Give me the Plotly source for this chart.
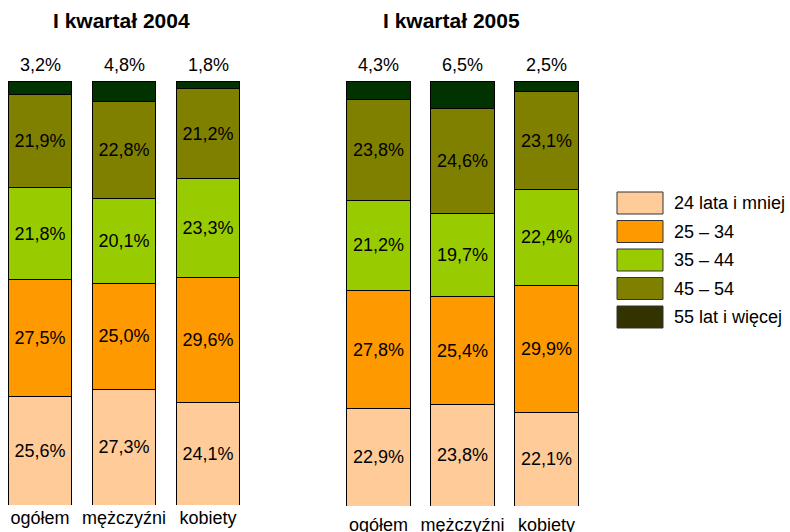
import plotly.graph_objects as go

categories = ["ogółem", "mężczyźni", "kobiety"]
age_groups = ["24 lata i mniej", "25 – 34", "35 – 44", "45 – 54", "55 lat i więcej"]
panel_titles = ["I kwartał 2004", "I kwartał 2005"]

# values per age group, for [ogółem, mężczyźni, kobiety]
q2004 = {
    "24 lata i mniej": [25.6, 27.3, 24.1],
    "25 – 34": [27.5, 25.0, 29.6],
    "35 – 44": [21.8, 20.1, 23.3],
    "45 – 54": [21.9, 22.8, 21.2],
    "55 lat i więcej": [3.2, 4.8, 1.8],
}
q2005 = {
    "24 lata i mniej": [22.9, 23.8, 22.1],
    "25 – 34": [27.8, 25.4, 29.9],
    "35 – 44": [21.2, 19.7, 22.4],
    "45 – 54": [23.8, 24.6, 23.1],
    "55 lat i więcej": [4.3, 6.5, 2.5],
}

bar_colors = ["#FFCC99", "#FF9900", "#99CC00", "#808000", "#003300"]
legend_colors = ["#FFCC99", "#FF9900", "#99CC00", "#808000", "#333300"]

FONT = "Arial, Liberation Sans, sans-serif"


def fmt(v):
    return f"{v:.1f}".replace(".", ",") + "%"


fig = go.Figure()
for panel, data in enumerate([q2004, q2005]):
    xa = "x" if panel == 0 else "x2"
    ya = "y" if panel == 0 else "y2"
    for i, grp in enumerate(age_groups):
        vals = data[grp]
        top = i == len(age_groups) - 1
        fig.add_trace(go.Bar(
            x=categories, y=vals, name=grp,
            xaxis=xa, yaxis=ya, width=0.76,
            marker=dict(color=bar_colors[i], line=dict(color="#000000", width=1)),
            text=None if top else [fmt(v) for v in vals],
            textposition="inside",
            insidetextanchor="middle",
            textangle=0,
            constraintext="none",
            insidetextfont=dict(color="#000000", size=18, family=FONT),
            showlegend=False, hoverinfo="skip",
        ))
        if top:
            stack_tops = [sum(data[g][k] for g in age_groups) for k in range(len(categories))]
            for cat, v, st in zip(categories, vals, stack_tops):
                fig.add_annotation(x=cat, y=st, xref=xa, yref=ya, text=fmt(v),
                                   showarrow=False, yanchor="middle", yshift=16,
                                   font=dict(size=18, family=FONT, color="#000000"))

common_x = dict(type="category", showgrid=False, zeroline=False, showline=False,
                automargin=False, tickcolor="rgba(0,0,0,0)",
                tickfont=dict(size=18, family=FONT, color="#000000"))
common_y = dict(range=[0, 100], visible=False, showgrid=False, zeroline=False,
                automargin=False)

fig.update_layout(
    width=790, height=532,
    margin=dict(l=0, r=0, t=0, b=0, autoexpand=False),
    paper_bgcolor="white", plot_bgcolor="white",
    barmode="stack",
    font=dict(family=FONT, color="#000000"),
    xaxis=dict(domain=[0, 250 / 790], range=[-40 / 84, 210 / 84], anchor="y",
               ticks="", **common_x),
    yaxis=dict(domain=[1 - 505 / 532, 1 - 81 / 532], anchor="x", **common_y),
    xaxis2=dict(domain=[330 / 790, 600 / 790], range=[(330 - 378.5) / 84, (600 - 378.5) / 84],
                anchor="y2", ticks="outside", ticklen=2, **common_x),
    yaxis2=dict(domain=[1 - 506 / 532, 1 - 81 / 532], anchor="x2", **common_y),
    showlegend=False,
)

# panel titles
for title, cx in zip(panel_titles, [121, 451]):
    fig.add_annotation(x=cx / 790, y=1 - 20 / 532, xref="paper", yref="paper",
                       text=f"<b>{title}</b>", showarrow=False,
                       font=dict(size=21, family=FONT, color="#000000"),
                       xanchor="center", yanchor="middle")

# legend drawn manually
for i, (grp, col) in enumerate(zip(age_groups, legend_colors)):
    top_px = 192 + i * 28.5
    fig.add_shape(type="rect", xref="paper", yref="paper",
                  x0=617 / 790, x1=663 / 790,
                  y0=1 - (top_px + 22) / 532, y1=1 - top_px / 532,
                  fillcolor=col, line=dict(color="#333333", width=1))
    fig.add_annotation(x=672 / 790, y=1 - (top_px + 11) / 532, xref="paper", yref="paper",
                       text=grp, showarrow=False, xanchor="left", yanchor="middle",
                       font=dict(size=18, family=FONT, color="#000000"))

fig.write_html("out.html", config={"displayModeBar": False},
               post_script="document.body.style.margin='0';document.body.style.overflow='hidden';")
